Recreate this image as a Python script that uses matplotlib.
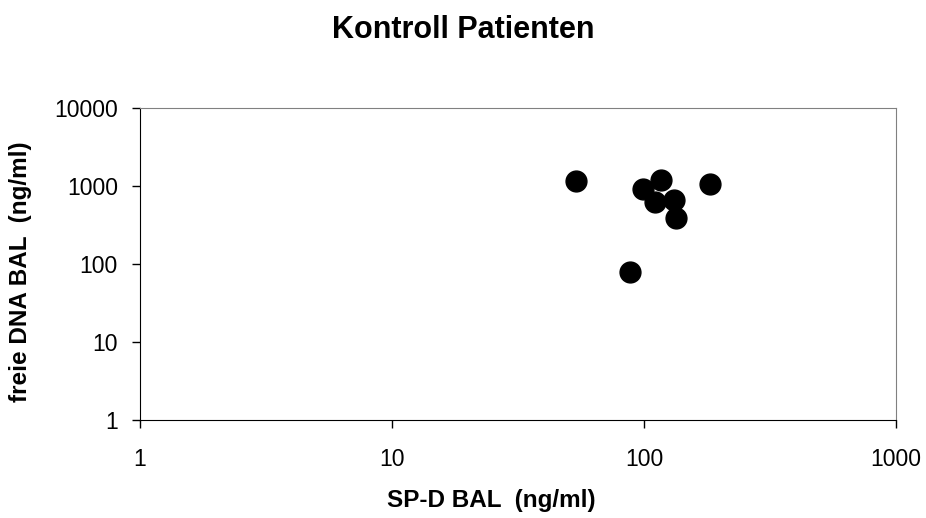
import numpy as np
from matplotlib import pyplot as plt
from matplotlib.ticker import FixedLocator, FixedFormatter

plt.rcParams['font.family'] = ['Liberation Sans', 'DejaVu Sans']

# SP-D BAL vs freie DNA BAL, control patients
sp_d = [53.6, 116.8, 98.8, 182.8, 110.6, 131.9, 133.6, 88.0]
dna = [1170, 1195, 907, 1052, 618, 662, 385, 79]

x_ticks = [1, 10, 100, 1000]
y_ticks = [1, 10, 100, 1000, 10000]

W, H = 926, 518
fig = plt.figure(figsize=(W/100, H/100), dpi=100)
ax = fig.add_axes([140/W, 1 - 420/H, (896-140)/W, (420-108)/H])

ax.plot(sp_d, dna, 'o', color='black', markersize=15, clip_on=False)

ax.set_xscale('log')
ax.set_yscale('log')
ax.set_xlim(1, 1000)
ax.set_ylim(1, 10000)
ax.xaxis.set_major_locator(FixedLocator(x_ticks))
ax.xaxis.set_major_formatter(FixedFormatter([str(v) for v in x_ticks]))
ax.yaxis.set_major_locator(FixedLocator(y_ticks))
ax.yaxis.set_major_formatter(FixedFormatter([str(v) for v in y_ticks]))
ax.minorticks_off()
ax.tick_params(axis='both', direction='out', length=6, width=1, labelsize=16.5)
ax.tick_params(axis='x', pad=14)
ax.tick_params(axis='y', pad=10)

ax.spines['top'].set_color('#808080')
ax.spines['right'].set_color('#808080')
for s in ['left', 'bottom']:
    ax.spines[s].set_color('black')

fig.text(491/W, 1 - 501/H, 'SP-D BAL  (ng/ml)', ha='center', va='center',
         fontsize=17.5, fontweight='bold')
fig.text(21/W, 1 - 272/H, 'freie DNA BAL  (ng/ml)', ha='center', va='center',
         rotation=90, fontsize=17.5, fontweight='bold')
fig.text(463/W, 1 - 30/H, 'Kontroll Patienten', ha='center', va='center',
         fontsize=22, fontweight='bold')

fig.savefig('out.png', dpi=100)
